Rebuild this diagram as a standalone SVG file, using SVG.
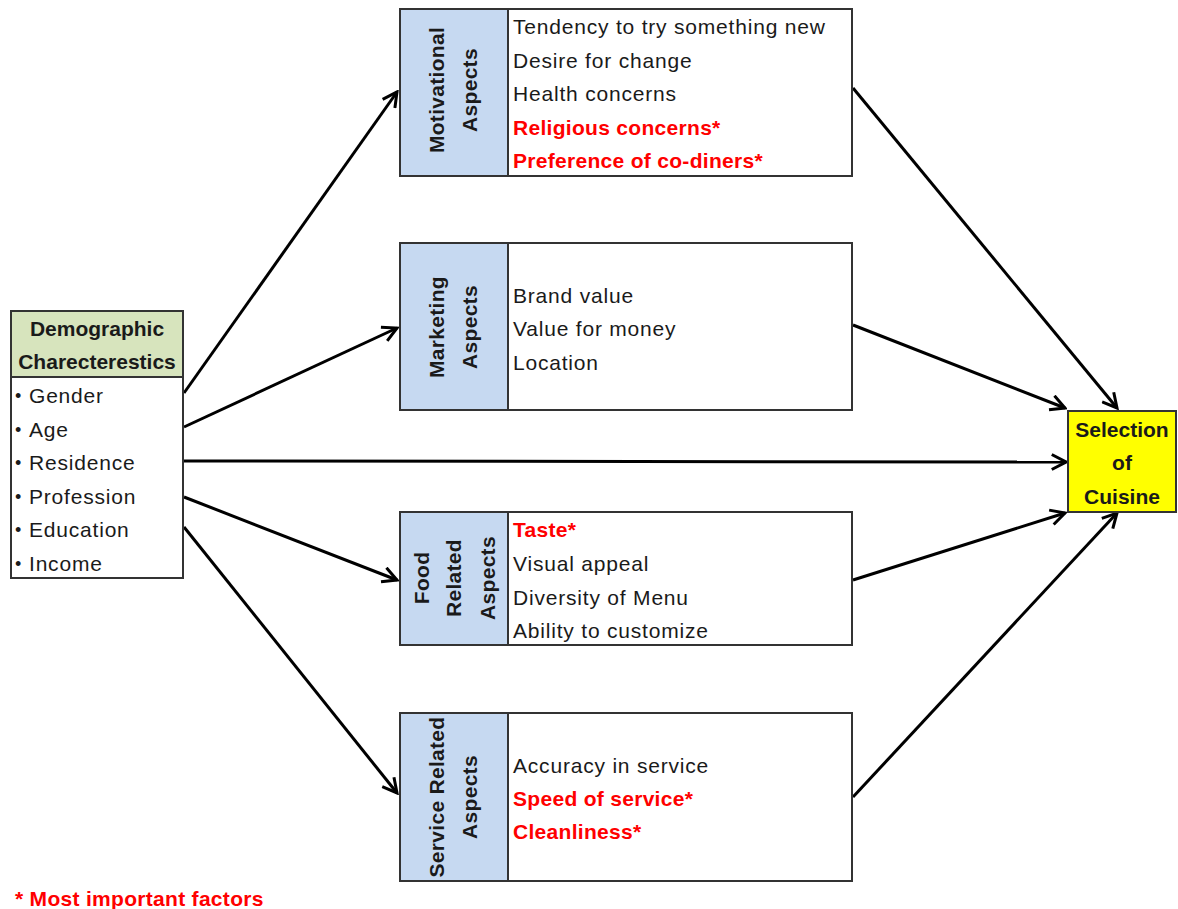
<svg xmlns="http://www.w3.org/2000/svg" width="1178" height="909" viewBox="0 0 1178 909">
  <style>
    .box { stroke: #333333; stroke-width: 2; }
    .white { fill: #ffffff; }
    .blue { fill: #c6d9f1; }
    .green { fill: #d7e4bd; }
    .yellow { fill: #ffff00; }
    text { font-family: "Liberation Sans", Arial, sans-serif; font-size: 21px; fill: #1a1a1a; letter-spacing: 0.8px; }
    .b { font-weight: bold; letter-spacing: 0.3px; }
    .hd { letter-spacing: 0; }
    .dot { font-size: 18px; letter-spacing: 0; }
    .red { fill: #ff0000; font-weight: bold; letter-spacing: 0.3px; }
    .mid { text-anchor: middle; }
    .edge { stroke: #000000; stroke-width: 3; fill: none; marker-end: url(#arrow); }
  </style>
  <defs>
    <marker id="arrow" viewBox="0 0 12 12" markerWidth="18" markerHeight="18" refX="10.5" refY="6" orient="auto" markerUnits="userSpaceOnUse">
      <path d="M1,1 L10.5,6 L1,11" fill="none" stroke="#000000" stroke-width="2"/>
    </marker>
  </defs>
  <rect width="1178" height="909" fill="#ffffff"/>

  <!-- Connectors -->
  <g id="connectors">
    <line class="edge" x1="184" y1="393" x2="397" y2="92"/>
    <line class="edge" x1="184" y1="427" x2="397" y2="328"/>
    <line class="edge" x1="184" y1="461" x2="1066" y2="462"/>
    <line class="edge" x1="184" y1="497" x2="397" y2="580"/>
    <line class="edge" x1="184" y1="527" x2="397" y2="793"/>
    <line class="edge" x1="853" y1="88" x2="1117" y2="408"/>
    <line class="edge" x1="853" y1="325" x2="1065" y2="408"/>
    <line class="edge" x1="853" y1="580" x2="1065" y2="513"/>
    <line class="edge" x1="853" y1="797" x2="1117" y2="513"/>
  </g>

  <!-- Demographic characteristics -->
  <g id="demographic">
    <rect class="box green" x="11" y="311" width="172" height="66"/>
    <rect class="box white" x="11" y="377" width="172" height="201"/>
    <text class="b hd mid" x="97" y="336">Demographic</text>
    <text class="b hd mid" x="97" y="369">Charecterestics</text>
    <text class="dot" x="15" y="402">•</text><text x="29" y="403">Gender</text>
    <text class="dot" x="15" y="436">•</text><text x="29" y="437">Age</text>
    <text class="dot" x="15" y="469">•</text><text x="29" y="470">Residence</text>
    <text class="dot" x="15" y="503">•</text><text x="29" y="504">Profession</text>
    <text class="dot" x="15" y="536">•</text><text x="29" y="537">Education</text>
    <text class="dot" x="15" y="570">•</text><text x="29" y="571">Income</text>
  </g>

  <!-- Motivational aspects -->
  <g id="motivational">
    <rect class="box blue" x="400" y="9" width="108" height="167"/>
    <rect class="box white" x="508" y="9" width="344" height="167"/>
    <text class="b mid" transform="translate(444,90) rotate(-90)">Motivational</text>
    <text class="b mid" transform="translate(477,90) rotate(-90)">Aspects</text>
    <text x="513" y="34">Tendency to try something new</text>
    <text x="513" y="68">Desire for change</text>
    <text x="513" y="101">Health concerns</text>
    <text class="red" x="513" y="135">Religious concerns*</text>
    <text class="red" x="513" y="168">Preference of co-diners*</text>
  </g>

  <!-- Marketing aspects -->
  <g id="marketing">
    <rect class="box blue" x="400" y="243" width="108" height="167"/>
    <rect class="box white" x="508" y="243" width="344" height="167"/>
    <text class="b mid" transform="translate(444,327) rotate(-90)">Marketing</text>
    <text class="b mid" transform="translate(477,327) rotate(-90)">Aspects</text>
    <text x="513" y="303">Brand value</text>
    <text x="513" y="336">Value for money</text>
    <text x="513" y="370">Location</text>
  </g>

  <!-- Food related aspects -->
  <g id="food">
    <rect class="box blue" x="400" y="512" width="108" height="133"/>
    <rect class="box white" x="508" y="512" width="344" height="133"/>
    <text class="b mid" transform="translate(429,578) rotate(-90)">Food</text>
    <text class="b mid" transform="translate(461,578) rotate(-90)">Related</text>
    <text class="b mid" transform="translate(495,578) rotate(-90)">Aspects</text>
    <text class="red" x="513" y="537">Taste*</text>
    <text x="513" y="571">Visual appeal</text>
    <text x="513" y="605">Diversity of Menu</text>
    <text x="513" y="638">Ability to customize</text>
  </g>

  <!-- Service related aspects -->
  <g id="service">
    <rect class="box blue" x="400" y="713" width="108" height="168"/>
    <rect class="box white" x="508" y="713" width="344" height="168"/>
    <text class="b mid" transform="translate(444,797) rotate(-90)">Service  Related</text>
    <text class="b mid" transform="translate(477,797) rotate(-90)">Aspects</text>
    <text x="513" y="773">Accuracy in service</text>
    <text class="red" x="513" y="806">Speed of service*</text>
    <text class="red" x="513" y="839">Cleanliness*</text>
  </g>

  <!-- Selection of cuisine -->
  <g id="selection">
    <rect class="box yellow" x="1068" y="411" width="108" height="101"/>
    <text class="b hd mid" x="1122" y="437">Selection</text>
    <text class="b hd mid" x="1122" y="470">of</text>
    <text class="b hd mid" x="1122" y="504">Cuisine</text>
  </g>

  <!-- Legend -->
  <g id="legend">
    <text class="red" x="15" y="906">* Most important factors</text>
  </g>
</svg>
